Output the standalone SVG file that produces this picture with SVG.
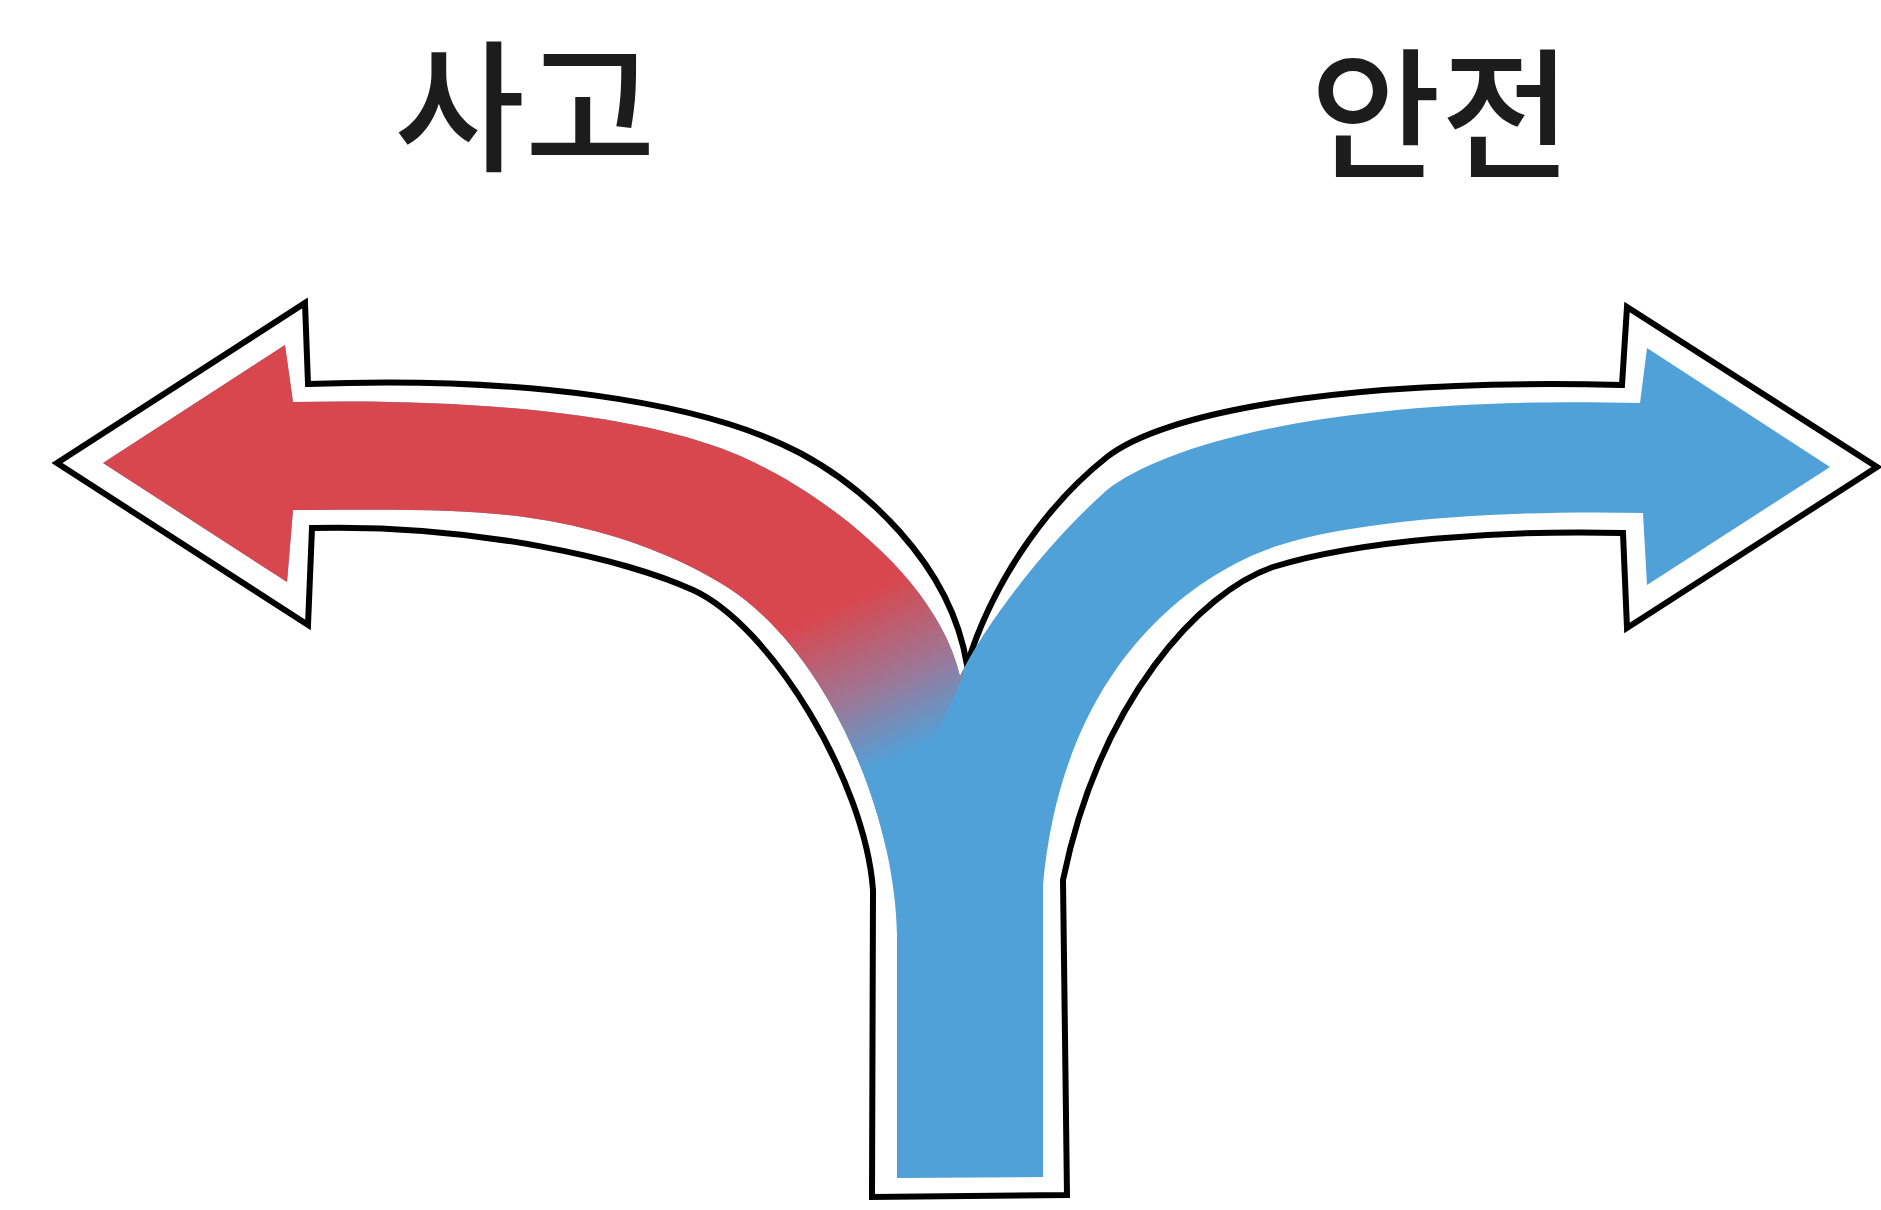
<svg xmlns="http://www.w3.org/2000/svg" width="1881" height="1210" viewBox="0 0 1881 1210">
<style>
.lbl{font-family:"Noto Sans CJK KR","Noto Sans",sans-serif;font-size:142px;font-weight:500;fill:#1c1c1c;text-anchor:middle}
.outline{fill:#ffffff;stroke:#000000;stroke-width:6;stroke-linejoin:miter;stroke-miterlimit:20}
</style>
<defs>
<linearGradient id="blend" gradientUnits="userSpaceOnUse" x1="835" y1="575" x2="915" y2="750">
<stop offset="0" stop-color="#D9474E"/>
<stop offset="0.15" stop-color="#D9474E"/>
<stop offset="0.6" stop-color="#A07593"/>
<stop offset="1" stop-color="#50A1D8"/>
</linearGradient>
<clipPath id="leftPart">
<path d="M0,0 L963,0 L963,676 L885,850 L0,850 Z"/>
</clipPath>
<path id="inner" d="M103,463 L285,345 L293,402 C480,398 640,415 733,453 C807,483 935,570 960,676 C985,625 1045,545 1107,490 C1165,445 1330,395 1640,403 L1647,348 L1830,467 L1647,585 L1643,513 C1500,510 1360,520 1280,545 C1200,570 1063,660 1043,885 L1043,1177 L897,1178 L897,935 C895,810 825,650 727,587 C680,557 620,535 560,523 C480,507 400,510 293,510 L287,582 Z"/>
</defs>
<rect width="1881" height="1210" fill="#ffffff"/>
<g id="label-accident"><text class="lbl" x="525" y="160">사고</text></g>
<g id="label-safety"><text class="lbl" x="1441" y="168">안전</text></g>
<g id="connectors">
<g id="fork-arrow">
<path class="outline" d="M57,463 L305,303 L308,384 C520,376 700,400 800,453 C860,485 950,560 967,665 C990,590 1040,510 1107,457 C1160,415 1330,378 1622,385 L1627,307 L1877,467 L1627,628 L1623,533 C1500,530 1360,540 1273,567 C1200,592 1100,700 1063,880 L1067,1195 L872,1197 L873,890 C865,780 770,625 693,590 C630,561 480,524 312,528 L308,625 Z"/>
<use href="#inner" fill="#50A1D8"/>
<use href="#inner" fill="url(#blend)" clip-path="url(#leftPart)"/>
</g>
</g>
</svg>
